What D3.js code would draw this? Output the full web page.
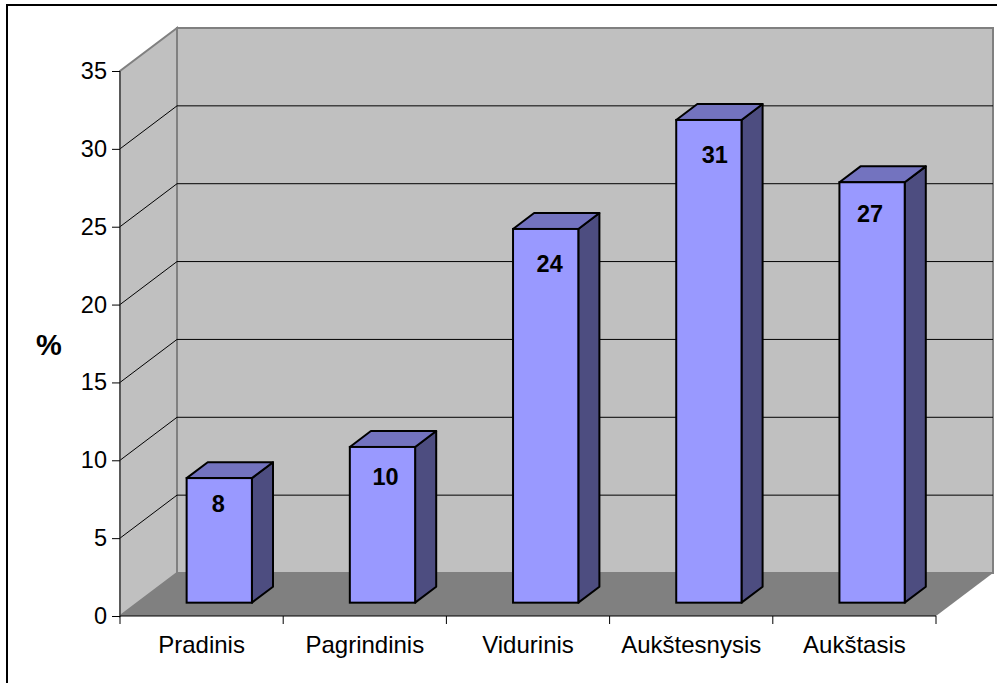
<!DOCTYPE html>
<html><head><meta charset="utf-8">
<script src="https://cdnjs.cloudflare.com/ajax/libs/d3/7.8.5/d3.min.js"></script>
<style>
html,body{margin:0;padding:0;background:#fff;overflow:hidden}
svg{display:block}
text{font-family:"Liberation Sans",Arial,sans-serif;fill:#000}
</style></head><body>
<svg id="c" width="997" height="683"></svg>
<script>
const categories = ["Pradinis","Pagrindinis","Vidurinis","Aukštesnysis","Aukštasis"];
const values = [8,10,24,31,27];
const yTicks = [0,5,10,15,20,25,30,35];
const yTitle = "%";

const svg = d3.select("#c");
const depthX = 57, depthY = -43;          // full floor depth
const barDepth0 = 0.31, barDepth1 = 0.68; // bar front/back depth, as fraction
const labelDx = [-1,3,4,6,-2], labelDy = [34,38,43,43,40]; // data label nudges
const x = d3.scaleBand().domain(categories).range([120,936]).paddingInner(0.6).paddingOuter(0.3);
const y = d3.scaleLinear().domain([0,35]).range([616,71]);
const FONT = '"Liberation Sans",Arial,sans-serif';

// frame
svg.append("path").attr("d","M7,683V5H997").attr("fill","none").attr("stroke","#000").attr("stroke-width",2);

const pts = a => a.map(p=>p.join(",")).join(" ");
const [x0,x1] = x.range(), yb = y(0), yt = y(35);
// side wall
svg.append("polygon").attr("points",pts([[x0,yb],[x0+depthX,yb+depthY],[x0+depthX,yt+depthY],[x0,yt]]))
  .attr("fill","#c0c0c0").attr("stroke","#808080").attr("stroke-width",2);
// back wall
svg.append("rect").attr("x",x0+depthX).attr("y",yt+depthY).attr("width",x1-x0).attr("height",yb-yt)
  .attr("fill","#c0c0c0").attr("stroke","#808080").attr("stroke-width",2);
// floor
svg.append("polygon").attr("points",pts([[x0,yb],[x1,yb],[x1+depthX,yb+depthY],[x0+depthX,yb+depthY]]))
  .attr("fill","#808080");

// gridlines
const grid = yTicks.filter(v=>v>0 && v<35);
svg.append("g").selectAll("path").data(grid).join("path")
  .attr("d",v=>`M${x0},${y(v)}L${x0+depthX},${y(v)+depthY}H${x1+depthX}`)
  .attr("fill","none").attr("stroke","#000").attr("stroke-width",1);

// axes
const axL = svg.append("g").attr("transform",`translate(${x0},0)`)
  .call(d3.axisLeft(y).tickValues(yTicks).tickSize(8).tickPadding(5));
axL.selectAll(".domain").attr("stroke","#333").attr("d",`M0,${yt}V${yb}`);
axL.selectAll("line").attr("stroke","#000");
axL.selectAll("text").attr("font-size",23.5).style("font-family",FONT);

const axB = svg.append("g").attr("transform",`translate(0,${yb})`)
  .call(d3.axisBottom(x).tickSize(0).tickPadding(20));
axB.selectAll(".domain").attr("stroke","#000").attr("d",`M${x0},0H${x1}`);
axB.selectAll("text").attr("font-size",24).style("font-family",FONT);
axB.selectAll("line.sep").data(d3.range(categories.length+1)).join("line").attr("class","sep")
  .attr("x1",i=>x0+i*x.step()).attr("x2",i=>x0+i*x.step()).attr("y1",0).attr("y2",8).attr("stroke","#000");

// bars
const ox0 = barDepth0*depthX, oy0 = barDepth0*depthY;
const ox = (barDepth1-barDepth0)*depthX, oy = (barDepth1-barDepth0)*depthY;
const bw = x.bandwidth();
const g = svg.append("g").selectAll("g").data(categories.map((c,i)=>({c,v:values[i],i}))).join("g")
  .attr("transform",`translate(${ox0},${oy0})`);
g.append("polygon").attr("points",d=>{const l=x(d.c)+bw,t=y(d.v);return pts([[l,t],[l+ox,t+oy],[l+ox,yb+oy],[l,yb]]);})
  .attr("fill","#4d4d80").attr("stroke","#000").attr("stroke-width",2).attr("stroke-linejoin","round");
g.append("polygon").attr("points",d=>{const l=x(d.c),t=y(d.v);return pts([[l,t],[l+ox,t+oy],[l+bw+ox,t+oy],[l+bw,t]]);})
  .attr("fill","#7373bf").attr("stroke","#000").attr("stroke-width",2).attr("stroke-linejoin","round");
g.append("rect").attr("x",d=>x(d.c)).attr("y",d=>y(d.v)).attr("width",bw).attr("height",d=>yb-y(d.v))
  .attr("fill","#9999ff").attr("stroke","#000").attr("stroke-width",2);
g.append("text").attr("x",d=>x(d.c)+bw/2+labelDx[d.i]).attr("y",d=>y(d.v)+labelDy[d.i]).attr("text-anchor","middle")
  .attr("font-size",23.5).attr("font-weight","bold").text(d=>d.v);

// y title
svg.append("text").attr("x",49).attr("y",355).attr("text-anchor","middle")
  .attr("font-size",29).attr("font-weight","bold").text(yTitle);
</script>
</body></html>
